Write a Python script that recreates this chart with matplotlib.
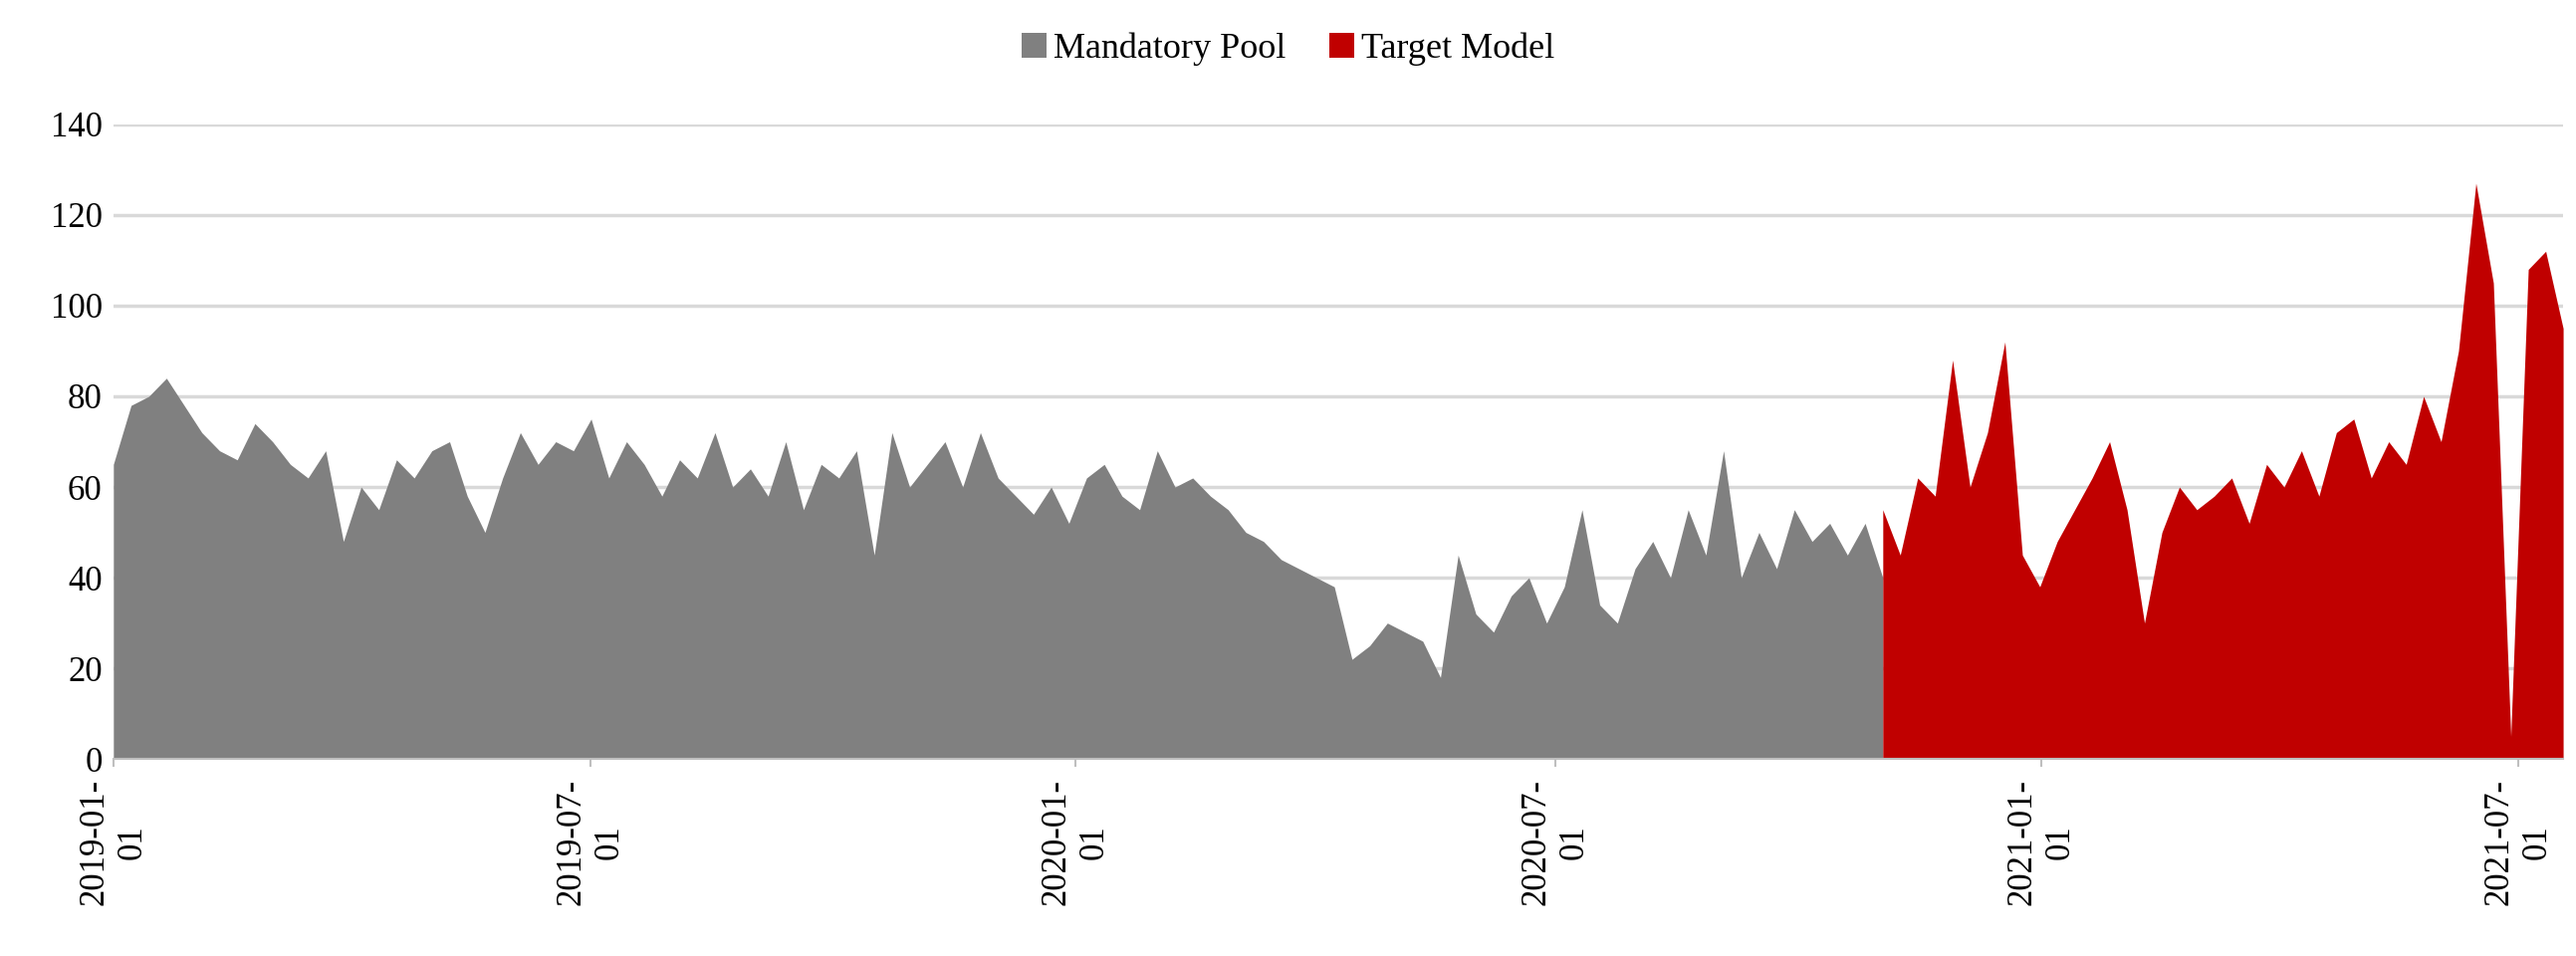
import numpy as np
import pandas as pd
import matplotlib
matplotlib.use("Agg")
import matplotlib.pyplot as plt
import matplotlib.dates as mdates

plt.rcParams['font.family'] = ['Liberation Serif', 'DejaVu Serif']

# weekly values
pool_values = [
    65, 78, 80, 84, 78, 72, 68, 66, 74, 70, 65, 62, 68, 48, 60, 55, 66, 62,
    68, 70, 58, 50, 62, 72, 65, 70, 68, 75, 62, 70, 65, 58, 66, 62, 72, 60,
    64, 58, 70, 55, 65, 62, 68, 45, 72, 60, 65, 70, 60, 72, 62, 58, 54, 60,
    52, 62, 65, 58, 55, 68, 60, 62, 58, 55, 50, 48, 44, 42, 40, 38,
    22, 25, 30, 28, 26, 18, 45, 32, 28, 36, 40, 30, 38, 55, 34, 30, 42, 48,
    40, 55, 45, 68, 40, 50, 42, 55, 48, 52, 45, 52, 40,
]
target_values = [
    55, 45, 62, 58, 88, 60, 72, 92, 45, 38, 48, 55, 62, 70, 55, 30, 50, 60,
    55, 58, 62, 52, 65, 60, 68, 58, 72, 75, 62, 70, 65, 80, 70, 90, 127, 105,
    5, 108, 112, 95,
]
pool_start = "2019-01-01"
target_start = "2020-11-02"
target_end = "2021-07-18"

pool_dates = pd.date_range(pool_start, target_start, periods=len(pool_values))
target_dates = pd.date_range(target_start, target_end, periods=len(target_values))

fig = plt.figure(figsize=(25.87, 9.6), dpi=100)
ax = fig.add_axes([0.044, 0.206, 0.951, 0.664])

ax.fill_between(pool_dates, pool_values, color="#808080", lw=0, label="Mandatory Pool")
ax.fill_between(target_dates, target_values, color="#C00000", lw=0, label="Target Model")

ax.set_ylim(0, 140)
ax.set_yticks(range(0, 141, 20))
ax.set_xlim(pd.Timestamp(pool_start), pd.Timestamp(target_end))
ax.xaxis.set_major_locator(mdates.MonthLocator(bymonth=[1, 7]))
ax.xaxis.set_major_formatter(mdates.DateFormatter("%Y-%m-\n%d"))
plt.setp(ax.get_xticklabels(), rotation=90, ha="center", va="top")
ax.tick_params(axis="both", labelsize=25, length=0, pad=8)
ax.tick_params(axis="x", length=6, width=1.5, color="#BFBFBF")
ax.grid(axis="y", color="#D9D9D9", lw=2.5)
ax.set_axisbelow(True)
for s in ["top", "right", "left"]:
    ax.spines[s].set_visible(False)
ax.spines["bottom"].set_color("#BFBFBF")
ax.spines["bottom"].set_linewidth(1.5)

fig.legend(loc="upper center", ncol=2, frameon=False, fontsize=26,
           bbox_to_anchor=(0.5, 1.0), handlelength=0.7, handleheight=0.7,
           handletextpad=0.2, columnspacing=1.2)

fig.savefig("out.png")
